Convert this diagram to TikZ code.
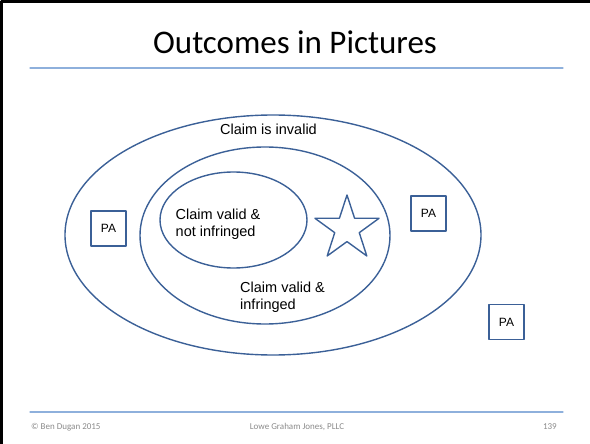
\documentclass[tikz,border=0pt]{standalone}
\usepackage{fontspec}
\setmainfont{Liberation Sans}
\newfontfamily\slidefont{Carlito}

\definecolor{shapeblue}{HTML}{3B6097}
\definecolor{ruleblue}{HTML}{8EB0DC}
\definecolor{footgrey}{HTML}{8A8A8A}

\begin{document}
\begin{tikzpicture}[x=1pt,y=-1pt,line cap=round,line join=round,
  claimline/.style={draw=shapeblue,line width=1.4pt},
  rule/.style={draw=ruleblue,line width=1.3pt},
  pabox/.style={claimline,minimum size=35pt,inner sep=0pt,font=\fontsize{12}{14}\selectfont},
  claimtext/.style={inner sep=0pt,align=left,font=\fontsize{14.5}{17.5}\selectfont},
  foot/.style={inner sep=0pt,text=footgrey,font=\slidefont\fontsize{9}{11}\selectfont}]

\useasboundingbox (0,0) rectangle (590,444);

% parameters
\def\sx{347}     % star centre
\def\sy{228.7}
\def\R{33.7}     % star outer radius
\def\r{12.9}     % star inner radius

% slide frame (left and top edges only)
\draw[line width=3.2pt] (1.6,444) -- (1.6,1.6) -- (590,1.6);

% title + rules
\node[anchor=base,inner sep=0pt,font=\slidefont\fontsize{33}{40}\selectfont] (title) at (295,54) {Outcomes in Pictures};
\draw[rule] (30,68) -- (563,68);
\draw[rule] (30,412) -- (563,412);

% the three ellipses
\draw[claimline] (273,235) ellipse [x radius=208, y radius=120];
\draw[claimline] (265,235.5) ellipse [x radius=125, y radius=88.5];
\draw[claimline] (233.5,220) ellipse [x radius=73.5, y radius=48];

% labels
\node[claimtext,anchor=base] (invalid) at (268.5,135) {Claim is invalid};
\node[claimtext,anchor=north west] (notinfr) at (175.5,208.5) {Claim valid \&\\not infringed};
\node[claimtext,anchor=north west] (infr) at (240,281.5) {Claim valid \&\\infringed};

% star
\draw[claimline,shift={(\sx,\sy)}] (270:\R)
  \foreach \k in {1,...,9}{ -- ({270+36*\k}:{ifthenelse(mod(\k,2)==0,\R,\r)}) } -- cycle;

% PA boxes
\foreach \n/\x/\y in {paleft/108.5/228.5, paright/428.5/213.5, paout/506.5/322}{
  \node[pabox] (\n) at (\x,\y) {PA};
}

% footer
\node[foot,anchor=base west] (copy) at (31,429) {© Ben Dugan 2015};
\node[foot,anchor=base] (firm) at (297,429) {Lowe Graham Jones, PLLC};
\node[foot,anchor=base east] (page) at (557,429) {139};

\end{tikzpicture}
\end{document}
